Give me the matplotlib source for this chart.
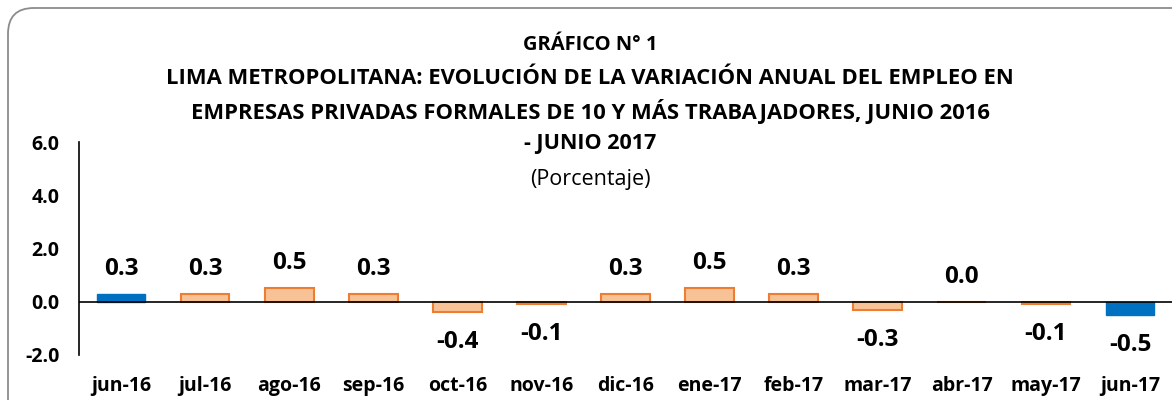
import matplotlib
matplotlib.use("Agg")
import matplotlib.pyplot as plt
from matplotlib.patches import FancyBboxPatch

months = ["jun-16", "jul-16", "ago-16", "sep-16", "oct-16", "nov-16", "dic-16",
          "ene-17", "feb-17", "mar-17", "abr-17", "may-17", "jun-17"]
values = [0.3, 0.3, 0.5, 0.3, -0.4, -0.1, 0.3, 0.5, 0.3, -0.3, 0.0, -0.1, -0.5]
labels = ["0.3", "0.3", "0.5", "0.3", "-0.4", "-0.1", "0.3", "0.5", "0.3",
          "-0.3", "0.0", "-0.1", "-0.5"]
yticks = [-2.0, 0.0, 2.0, 4.0, 6.0]

plt.rcParams["font.family"] = ["Open Sans", "DejaVu Sans"]

fig = plt.figure(figsize=(11.72, 4.0), dpi=100)

# rounded frame around the chart (runs off the right and bottom edges)
frame = FancyBboxPatch((8 / 1172, -0.2), 1.2, 1.2 - 8 / 400,
                       boxstyle="round,pad=0,rounding_size=0.022",
                       transform=fig.transFigure, facecolor="white",
                       edgecolor="#8c8c8c", linewidth=1.3, zorder=-5,
                       mutation_aspect=1172 / 400)
fig.patches.append(frame)

ax = fig.add_axes([79 / 1172, 45 / 400, 1 - 79 / 1172, 213 / 400])
ax.set_facecolor("none")

x = list(range(len(months)))
for i, v in enumerate(values):
    if i in (0, len(values) - 1):
        ax.bar(i, v, width=0.58, color="#0070C0", edgecolor="#0070C0", linewidth=1.0, zorder=2)
    else:
        ax.bar(i, v, width=0.58, color="#F8C297", edgecolor="#ED7D31", linewidth=1.5, zorder=2)
    off = 18 if v >= 0 else -21.5
    ax.annotate(labels[i], (i, v), xytext=(0, off), textcoords="offset points",
                ha="center", va="center", fontsize=17.5, fontweight="bold")

ax.axhline(0, color="black", linewidth=1.2, zorder=3)
ax.set_xlim(-0.5, len(months) - 0.5)
ax.set_ylim(-2, 6)
ax.set_yticks(yticks)
ax.set_yticklabels([f"{t:.1f}" for t in yticks], fontsize=14, fontweight="bold")
ax.set_xticks(x)
ax.set_xticklabels(months, fontsize=14, fontweight="bold")
ax.tick_params(axis="y", length=0, pad=14)
ax.tick_params(axis="x", length=0, pad=15)
for s in ("top", "right", "bottom"):
    ax.spines[s].set_visible(False)
ax.spines["left"].set_linewidth(1.2)

title_lines = [
    (45, "GRÁFICO N° 1", 14.5),
    (78, "LIMA METROPOLITANA: EVOLUCIÓN DE LA VARIACIÓN ANUAL DEL EMPLEO EN", 15.8),
    (112, "EMPRESAS PRIVADAS FORMALES DE 10 Y MÁS TRABAJADORES, JUNIO 2016", 15.8),
    (144, "- JUNIO 2017", 15.5),
]
for y, t, fs in title_lines:
    fig.text(590 / 1172, 1 - y / 400, t, ha="center", va="center",
             fontsize=fs, fontweight="bold")
fig.text(590 / 1172, 1 - 180 / 400, "(Porcentaje)", ha="center", va="center", fontsize=15.5)

fig.savefig("out.png", dpi=100)
